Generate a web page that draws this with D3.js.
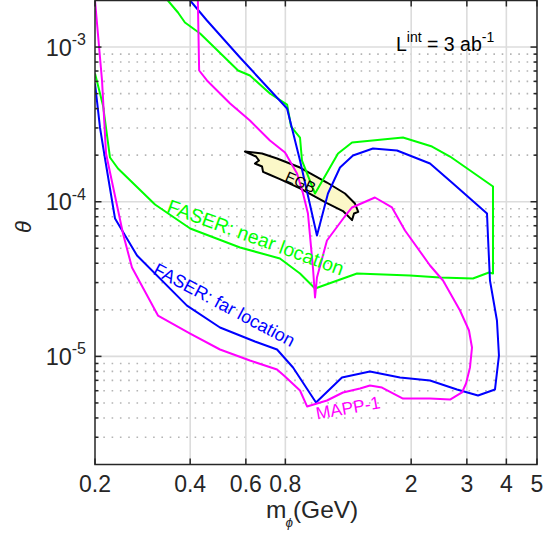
<!DOCTYPE html>
<html>
<head>
<meta charset="utf-8">
<script src="https://cdn.jsdelivr.net/npm/d3@7/dist/d3.min.js"></script>
<style>
  body { margin: 0; background: #fff; }
  svg { display: block; font-family: "Liberation Sans", Arial, Helvetica, sans-serif; }
</style>
</head>
<body>
<svg id="chart" width="543" height="534"></svg>
<script>
// axis ticks
const xTicks = [0.2, 0.4, 0.6, 0.8, 2, 3, 4, 5];
const xTickLabels = ['0.2', '0.4', '0.6', '0.8', '2', '3', '4', '5'];
const yMajor = [1e-5, 1e-4, 1e-3];
const yExp = ['-5', '-4', '-3'];

// FASER far location, [m_phi GeV, theta]
const faserFar = [
  [0.2, 5.81e-4], [0.2074, 3.02e-4], [0.2151, 1.904e-4], [0.2314, 7.79e-5],
  [0.2716, 4.49e-5], [0.3908, 2.13e-5], [0.497, 1.537e-5], [0.641, 1.248e-5],
  [0.753, 1.108e-5], [0.846, 8.48e-6], [1.0, 5.03e-6], [1.208, 7.3e-6],
  [1.481, 7.99e-6], [1.844, 7.3e-6], [2.294, 6.98e-6], [2.792, 6.11e-6],
  [3.254, 5.59e-6], [3.682, 6.11e-6], [3.79, 1.013e-5], [3.735, 1.706e-5],
  [3.55, 3.094e-5], [3.5, 5.87e-5], [3.474, 8.39e-5], [2.712, 1.311e-4],
  [2.294, 1.767e-4], [1.804, 2.145e-4], [1.514, 2.21e-4], [1.309, 1.99e-4],
  [1.191, 1.664e-4], [1.091, 1.13e-4], [1.007, 6.05e-5], [0.89, 1.847e-4],
  [0.81, 4.007e-4], [0.575, 8.56e-4], [0.452, 1.485e-3], [0.4, 2.0e-3]
];

// FASER near location
const faserNear = [
  [0.2, 6.75e-4], [0.212, 4.19e-4], [0.2231, 1.931e-4], [0.2364, 1.64e-4],
  [0.3096, 9.6e-5], [0.4, 6.71e-5], [0.575, 5.06e-5], [0.769, 4.295e-5],
  [0.89, 3.436e-5], [0.993, 2.748e-5], [1.348, 3.436e-5], [1.983, 3.334e-5],
  [2.466, 3.236e-5], [3.136, 3.188e-5], [3.524, 3.487e-5], [3.63, 3.436e-5],
  [3.63, 1.254e-4], [2.654, 1.96e-4], [2.328, 2.275e-4], [1.884, 2.601e-4],
  [1.3, 2.415e-4], [1.174, 2.05e-4], [0.993, 1.13e-4], [0.903, 1.847e-4],
  [0.89, 2.601e-4], [0.834, 3.064e-4], [0.81, 4.25e-4], [0.715, 5.007e-4],
  [0.618, 6.547e-4], [0.567, 7.055e-4], [0.43, 1.224e-3], [0.385, 1.441e-3],
  [0.366, 1.673e-3], [0.34, 2.0e-3]
];

// MAPP-1
const mapp1 = [
  [0.2, 2.0e-3], [0.2105, 6.08e-4], [0.2167, 2.05e-4], [0.2452, 6.23e-5],
  [0.2618, 3.755e-5], [0.3164, 1.838e-5], [0.4, 1.406e-5], [0.497, 1.108e-5],
  [0.618, 9.41e-6], [0.753, 8.23e-6], [0.798, 7.41e-6], [0.89, 6.02e-6],
  [0.937, 4.745e-6], [1.083, 5.185e-6], [1.217, 5.843e-6], [1.378, 6.2e-6],
  [1.481, 6.48e-6], [1.617, 6.29e-6], [1.884, 5.34e-6], [2.294, 5.34e-6],
  [2.654, 5.26e-6], [2.896, 5.843e-6], [2.982, 6.68e-6], [3.069, 8.48e-6],
  [3.114, 1.141e-5], [3.047, 1.47e-5], [2.854, 1.98e-5], [2.522, 3.094e-5],
  [2.294, 3.87e-5], [1.912, 6.52e-5], [1.739, 9.18e-5], [1.536, 1.065e-4],
  [1.3, 9.18e-5], [1.253, 8.39e-5], [1.083, 5.615e-5], [1.007, 3.236e-5],
  [0.993, 2.403e-5], [0.978, 3.755e-5], [0.943, 8.39e-5], [0.91, 1.13e-4],
  [0.871, 1.522e-4], [0.798, 2.08e-4], [0.715, 2.487e-4], [0.618, 3.35e-4],
  [0.535, 4.315e-4], [0.452, 6.08e-4], [0.427, 7.055e-4], [0.423, 2.0e-3]
];

// EGB band outline
const egb = [
  [0.596, 2.112e-4], [0.675, 2.05e-4], [0.753, 1.904e-4], [0.89, 1.664e-4],
  [1.083, 1.331e-4], [1.235, 1.13e-4], [1.328, 9.74e-5], [1.36, 8.6e-5],
  [1.319, 8.39e-5], [1.3, 7.6e-5], [1.217, 8.7e-5], [1.083, 9.8e-5],
  [0.89, 1.22e-4], [0.769, 1.4e-4], [0.705, 1.51e-4], [0.68, 1.56e-4],
  [0.675, 1.689e-4], [0.641, 1.767e-4], [0.66, 1.847e-4], [0.646, 1.96e-4]
];

// curve labels, anchored at baseline start
const labels = [
  { text: 'FASER: near location', m: 0.335, t: 8.6e-5, angle: 20, color: '#00ff00', size: 19.5 },
  { text: 'FASER: far location', m: 0.303, t: 3.436e-5, angle: 28, color: '#0000ff', size: 18 },
  { text: 'MAPP-1', m: 1.007, t: 3.91e-6, angle: -10, color: '#ff00ff', size: 17.5 },
  { text: 'EGB', m: 0.792, t: 1.371e-4, angle: 24, color: '#000000', size: 15 },
];

const svg = d3.select('#chart');
const pLeft = 95, pRight = 537, pTop = 0.5, pBottom = 464.5;

const x = d3.scaleLog().domain([0.2, 5]).range([pLeft, pRight]);
const y = d3.scaleLog().domain([2e-6, 2e-3]).range([pBottom, pTop]);

// minor y positions 2..9 x 10^k
const yMinor = [];
[-6, -5, -4, -3].forEach((e) => {
  for (let k = 2; k <= 9; k++) {
    const v = k * Math.pow(10, e);
    if (v > 2.01e-6 && v < 1.99e-3) yMinor.push(v);
  }
});

svg.append('defs').append('clipPath').attr('id', 'clip')
  .append('rect')
  .attr('x', pLeft).attr('y', pTop)
  .attr('width', pRight - pLeft).attr('height', pBottom - pTop);

// grid
const grid = svg.append('g');
grid.selectAll('.ymin')
  .data(yMinor)
  .join('line')
  .attr('x1', pLeft).attr('x2', pRight)
  .attr('y1', (d) => y(d)).attr('y2', (d) => y(d))
  .attr('stroke', '#b4b4b4')
  .attr('stroke-width', 1.6)
  .attr('stroke-dasharray', '1.6 6.7');

grid.selectAll('.ymaj')
  .data(yMajor)
  .join('line')
  .attr('x1', pLeft).attr('x2', pRight)
  .attr('y1', (d) => y(d)).attr('y2', (d) => y(d))
  .attr('stroke', '#dcdcdc')
  .attr('stroke-width', 1.6);

grid.selectAll('.xmaj')
  .data(xTicks.slice(1, -1))
  .join('line')
  .attr('y1', pTop).attr('y2', pBottom)
  .attr('x1', (d) => x(d)).attr('x2', (d) => x(d))
  .attr('stroke', '#dcdcdc')
  .attr('stroke-width', 1.6);

// curves
const line = d3.line().x((d) => x(d[0])).y((d) => y(d[1]));
const plot = svg.append('g').attr('clip-path', 'url(#clip)');

plot.append('path')
  .attr('d', line(egb) + 'Z')
  .attr('fill', '#fbf8c8')
  .attr('stroke', '#000')
  .attr('stroke-width', 2)
  .attr('stroke-linejoin', 'round');

[
  [faserNear, '#00ff00'],
  [faserFar, '#0000ff'],
  [mapp1, '#ff00ff'],
].forEach(([data, color]) => {
  plot.append('path')
    .attr('d', line(data))
    .attr('fill', 'none')
    .attr('stroke', color)
    .attr('stroke-width', 2)
    .attr('stroke-linejoin', 'round');
});

// labels
labels.forEach((l) => {
  const px = x(l.m), py = y(l.t);
  svg.append('text')
    .attr('transform', `translate(${px},${py}) rotate(${l.angle})`)
    .attr('fill', l.color)
    .attr('font-size', l.size)
    .text(l.text);
});

// luminosity note
const lum = svg.append('text')
  .attr('x', x(1.79)).attr('y', y(9.4e-4))
  .attr('font-size', 19.5)
  .attr('fill', '#000');
lum.append('tspan').text('L');
lum.append('tspan').attr('font-size', 14).attr('dy', -9).text('int');
lum.append('tspan').attr('dy', 9).text(' = 3 ab');
lum.append('tspan').attr('font-size', 14).attr('dy', -9).text('-1');

// axes box and ticks
const ax = svg.append('g').attr('stroke', '#262626').attr('stroke-width', 1.5);
ax.append('rect')
  .attr('x', pLeft).attr('y', pTop)
  .attr('width', pRight - pLeft).attr('height', pBottom - pTop)
  .attr('fill', 'none');

xTicks.forEach((v) => {
  ax.append('line').attr('x1', x(v)).attr('x2', x(v)).attr('y1', pBottom).attr('y2', pBottom - 6);
  ax.append('line').attr('x1', x(v)).attr('x2', x(v)).attr('y1', pTop).attr('y2', pTop + 6);
});
yMajor.forEach((v) => {
  ax.append('line').attr('x1', pLeft).attr('x2', pLeft + 6.5).attr('y1', y(v)).attr('y2', y(v));
  ax.append('line').attr('x1', pRight).attr('x2', pRight - 6.5).attr('y1', y(v)).attr('y2', y(v));
});
yMinor.forEach((v) => {
  ax.append('line').attr('x1', pLeft).attr('x2', pLeft + 3.5).attr('y1', y(v)).attr('y2', y(v));
  ax.append('line').attr('x1', pRight).attr('x2', pRight - 3.5).attr('y1', y(v)).attr('y2', y(v));
});

// tick labels
svg.append('g')
  .selectAll('text')
  .data(xTicks)
  .join('text')
  .attr('x', (d) => x(d))
  .attr('y', 492)
  .attr('text-anchor', 'middle')
  .attr('font-size', 23)
  .attr('fill', '#262626')
  .text((d, i) => xTickLabels[i]);

yMajor.forEach((v, i) => {
  const t = svg.append('text')
    .attr('x', 86)
    .attr('y', y(v) + 8.5)
    .attr('text-anchor', 'end')
    .attr('font-size', 23.5)
    .attr('fill', '#262626');
  t.append('tspan').text('10');
  t.append('tspan').attr('font-size', 16).attr('dy', -10.5).text(yExp[i]);
});

// axis titles
const xl = svg.append('text')
  .attr('x', 266).attr('y', 518)
  .attr('font-size', 24.5)
  .attr('fill', '#262626');
xl.append('tspan').text('m');
xl.append('tspan').attr('font-size', 13.5).attr('font-style', 'italic').attr('dy', 9).attr('dx', -1).text('\u03d5');
xl.append('tspan').attr('dy', -9).text('(GeV)');

svg.append('text')
  .attr('transform', 'translate(31,227) rotate(-90)')
  .attr('text-anchor', 'middle')
  .attr('font-size', 22)
  .attr('font-style', 'italic')
  .attr('fill', '#262626')
  .text('\u03b8');
</script>
</body>
</html>
